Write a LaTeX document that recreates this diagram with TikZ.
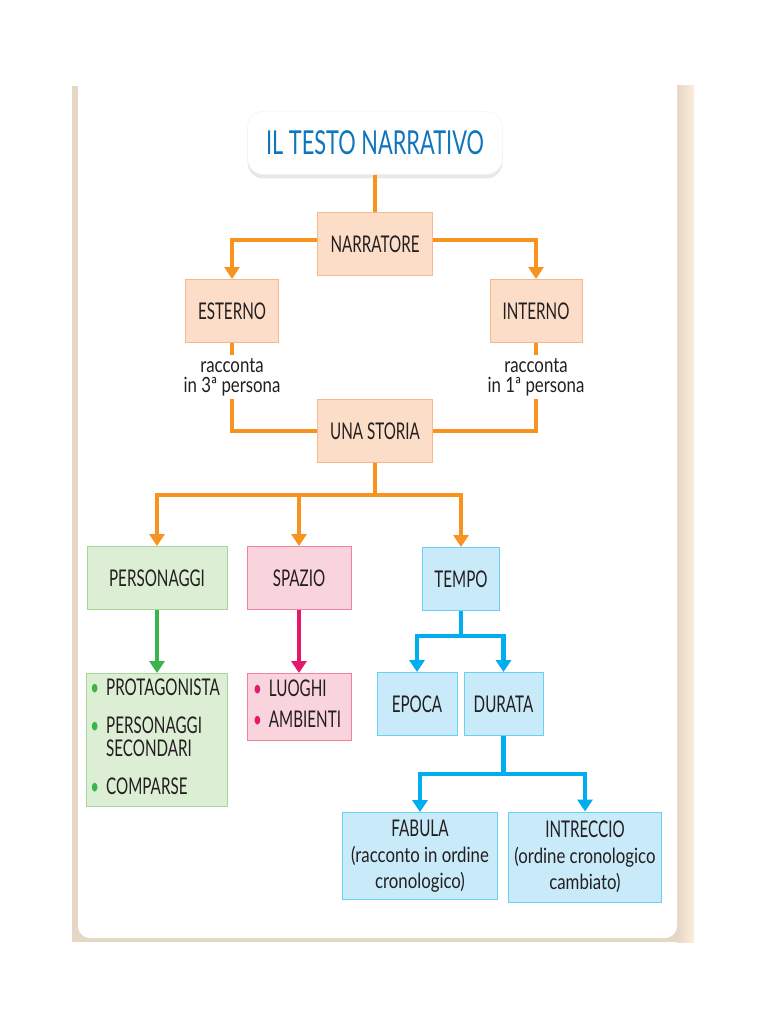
\documentclass[tikz,border=0pt]{standalone}
\usepackage{fontspec}
\setmainfont{Lato}[FakeStretch=0.66]
\newfontfamily\noteFont{Lato}[FakeStretch=0.8]
\usepackage{xcolor}
\definecolor{arrowOrange}{HTML}{F7931E}
\definecolor{peachFill}{HTML}{FCDDC8}
\definecolor{peachEdge}{HTML}{F8B88B}
\definecolor{greenFill}{HTML}{DCEFD4}
\definecolor{greenEdge}{HTML}{A5D69A}
\definecolor{arrowGreen}{HTML}{3AB54A}
\definecolor{pinkFill}{HTML}{FAD4DC}
\definecolor{pinkEdge}{HTML}{F0829F}
\definecolor{arrowPink}{HTML}{E5186E}
\definecolor{skyFill}{HTML}{C9EAF8}
\definecolor{skyEdge}{HTML}{6CCFF6}
\definecolor{arrowBlue}{HTML}{00AEEF}
\definecolor{titleBlue}{HTML}{0F75BF}
\definecolor{darkText}{HTML}{231F20}
\definecolor{paperTan}{HTML}{E6D6C6}
\definecolor{paperCream}{HTML}{FDEEDB}
\usepackage{tikz}
\usetikzlibrary{shadows, arrows.meta, positioning}
\newcommand{\bulletDot}[1]{\textcolor{#1}{\textbullet}}
\newcommand{\noteLine}[1]{{\noteFont\fontsize{21}{26}\selectfont #1}}

\begin{document}
\begin{tikzpicture}[
    x=1pt, y=-1pt,
    conceptBox/.style={
        rectangle,
        fill=#1Fill,
        draw=#1Edge,
        line width=1pt,
        minimum height=63pt,
        inner sep=4pt,
        align=center,
        text=darkText,
        font=\fontsize{23}{26}\selectfont
    },
    titleBox/.style={
        rectangle,
        rounded corners=16pt,
        fill=white,
        draw=gray!12,
        minimum width=255pt,
        minimum height=63pt,
        text=titleBlue,
        font=\fontsize{33}{36}\selectfont,
        drop shadow={shadow xshift=0pt, shadow yshift=-4pt, opacity=0.18, fill=gray}
    },
    noteText/.style={
        align=center,
        inner sep=3pt,
        text=darkText,
        font=\noteFont\fontsize{21}{20}\selectfont
    },
    linkLine/.style={
        line width=4.5pt,
        color=#1
    },
    linkArrow/.style={
        -{Triangle[width=15pt, length=12pt]},
        line width=4.5pt,
        color=#1
    }
]
\useasboundingbox (0,0) rectangle (768,1024);

% Page background
\fill[paperTan] (72,86) rectangle (694,942);
\shade[left color=paperTan, right color=paperCream] (677,86) rectangle (694,942);
\fill[white, rounded corners=12pt] (78,60) rectangle (677,938);

% Title and narrator
\node[titleBox] (titolo) at (375,143) {IL TESTO NARRATIVO};
\node[conceptBox=peach, minimum width=115pt] (narratore) at (375,244) {NARRATORE};
\node[conceptBox=peach, minimum width=93pt] (esterno) at (232,311) {ESTERNO};
\node[conceptBox=peach, minimum width=92pt] (interno) at (536,311) {INTERNO};
\node[noteText] (notaEsterno) at (232,377) {racconta\\in 3ª persona};
\node[noteText] (notaInterno) at (536,377) {racconta\\in 1ª persona};
\node[conceptBox=peach, minimum width=115pt] (storia) at (375,431) {UNA STORIA};

% Story elements
\node[conceptBox=green, minimum width=140pt] (personaggi) at (157,578) {PERSONAGGI};
\node[conceptBox=pink, minimum width=104pt] (spazio) at (299,578) {SPAZIO};
\node[conceptBox=sky, minimum width=77pt] (tempo) at (461,579) {TEMPO};

% Lists
\node[conceptBox=green, minimum width=140pt, minimum height=133pt, anchor=north, font=\fontsize{23}{22}\selectfont] (listaPersonaggi) at (157,673) {
    \begin{tabular}{@{}l@{\hspace{7pt}}l@{}}
    \bulletDot{arrowGreen} & PROTAGONISTA\\[15pt]
    \bulletDot{arrowGreen} & PERSONAGGI\\
     & SECONDARI\\[15pt]
    \bulletDot{arrowGreen} & COMPARSE
    \end{tabular}
};
\node[conceptBox=pink, minimum width=104pt, minimum height=67pt, anchor=north, font=\fontsize{23}{22}\selectfont] (listaSpazio) at (299,673) {
    \begin{tabular}{@{}l@{\hspace{7pt}}l@{}}
    \bulletDot{arrowPink} & LUOGHI\\[8pt]
    \bulletDot{arrowPink} & AMBIENTI
    \end{tabular}
};

% Time
\node[conceptBox=sky, minimum width=80pt] (epoca) at (417,704) {EPOCA};
\node[conceptBox=sky, minimum width=79pt, right=6pt of epoca] (durata) {DURATA};
\node[conceptBox=sky, minimum width=155pt, minimum height=87pt] (fabula) at (420,856) {FABULA\\\noteLine{(racconto in ordine}\\\noteLine{cronologico)}};
\node[conceptBox=sky, minimum width=153pt, minimum height=90pt] (intreccio) at (585,857) {INTRECCIO\\\noteLine{(ordine cronologico}\\\noteLine{cambiato)}};

% Orange connectors
\draw[linkLine=arrowOrange] (titolo) -- (narratore);
\draw[linkArrow=arrowOrange] ([yshift=4pt]narratore.west) -| (esterno);
\draw[linkArrow=arrowOrange] ([yshift=4pt]narratore.east) -| (interno);
\draw[linkLine=arrowOrange] (esterno) -- (notaEsterno);
\draw[linkLine=arrowOrange] (interno) -- (notaInterno);
\draw[linkLine=arrowOrange] (notaEsterno) |- (storia);
\draw[linkLine=arrowOrange] (notaInterno) |- (storia);
\draw[linkLine=arrowOrange] (storia.south) -- ++(0,32) coordinate (forkStoria);
\draw[linkArrow=arrowOrange] (forkStoria) -| (personaggi);
\draw[linkArrow=arrowOrange] (forkStoria) -| (spazio);
\draw[linkArrow=arrowOrange] (forkStoria) -| (tempo);

% Green, pink and blue connectors
\draw[linkArrow=arrowGreen] (personaggi) -- (listaPersonaggi);
\draw[linkArrow=arrowPink] (spazio) -- (listaSpazio);
\draw[linkLine=arrowBlue] (tempo.south) -- ++(0,25) coordinate (forkTempo);
\draw[linkArrow=arrowBlue] (forkTempo) -| (epoca);
\draw[linkArrow=arrowBlue] (forkTempo) -| (durata);
\draw[linkLine=arrowBlue] (durata.south) -- ++(0,38) coordinate (forkDurata);
\draw[linkArrow=arrowBlue] (forkDurata) -| (fabula);
\draw[linkArrow=arrowBlue] (forkDurata) -| (intreccio);

\end{tikzpicture}
\end{document}
